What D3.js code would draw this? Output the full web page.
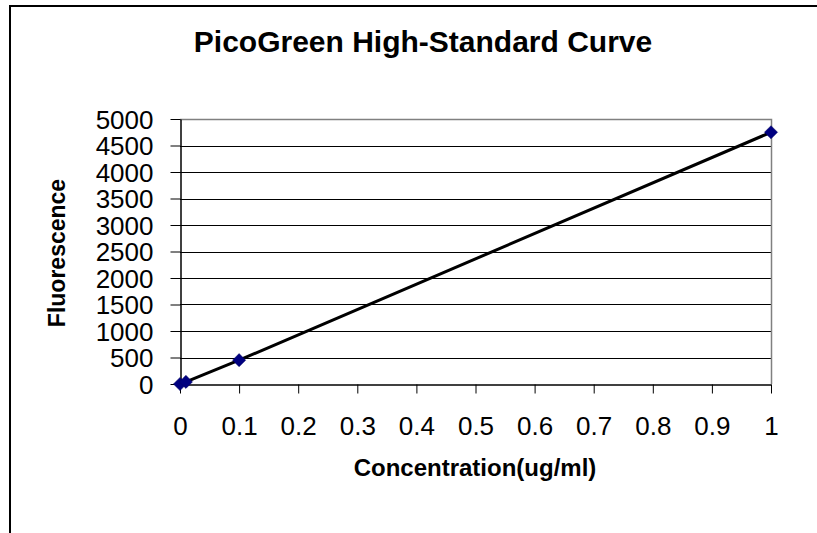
<!DOCTYPE html>
<html>
<head>
<meta charset="utf-8">
<script src="https://cdn.jsdelivr.net/npm/d3@7"></script>
<style>
  body { margin: 0; background: #fff; }
  text { font-family: "Liberation Sans", Arial, sans-serif; fill: #000; }
</style>
</head>
<body>
<script>
// PicoGreen standard: concentration (ug/ml) vs fluorescence
var concentration = [0, 0.01, 0.1, 1];
var fluorescence  = [0, 40, 450, 4750];
var xTicks = [0, 0.1, 0.2, 0.3, 0.4, 0.5, 0.6, 0.7, 0.8, 0.9, 1];
var yTicks = [0, 500, 1000, 1500, 2000, 2500, 3000, 3500, 4000, 4500, 5000];

var width  = 817,
    height = 533;

var plot = {left: 180, top: 119, right: 771, bottom: 384};

const svg = d3.select("body")
    .append("svg")
    .attr("width", width)
    .attr("height", height);

// outer chart border, runs off the right and bottom edge
svg.append("rect")
    .attr("x", 10).attr("y", 6)
    .attr("width", 1000).attr("height", 600)
    .attr("fill", "#fff")
    .attr("stroke", "#000")
    .attr("stroke-width", 2);

var x = d3.scaleLinear().domain([0, 1]).range([plot.left, plot.right]);
var y = d3.scaleLinear().domain([0, 5000]).range([plot.bottom, plot.top]);

// gridlines
svg.append("g")
    .selectAll("line")
    .data(yTicks.slice(1, -1))
    .join("line")
    .attr("x1", plot.left).attr("x2", plot.right)
    .attr("y1", d => Math.round(y(d)) + 0.5)
    .attr("y2", d => Math.round(y(d)) + 0.5)
    .style("stroke", "#000")
    .style("stroke-width", 1);

// gray frame on top and right
svg.append("path")
    .attr("d", `M${plot.left},${plot.top + 0.5}H${plot.right + 0.5}V${plot.bottom}`)
    .attr("fill", "none")
    .style("stroke", "#808080")
    .style("stroke-width", 1.5);

var xAxis = svg.append("g")
    .attr("transform", `translate(0,${plot.bottom + 0.5})`)
    .call(d3.axisBottom(x).tickValues(xTicks).tickSize(9).tickPadding(23)
        .tickFormat(d3.format("")).tickSizeOuter(0));

var yAxis = svg.append("g")
    .attr("transform", `translate(${plot.left + 0.5},0)`)
    .call(d3.axisLeft(y).tickValues(yTicks).tickSize(10).tickPadding(17)
        .tickFormat(d3.format("d")).tickSizeOuter(0));

[xAxis, yAxis].forEach(a => {
    a.select(".domain").style("stroke", "#000").style("stroke-width", 1.5);
    a.selectAll(".tick line").style("stroke", "#000");
    a.selectAll(".tick text")
        .style("font-family", "'Liberation Sans', Arial, sans-serif")
        .style("font-size", "26px")
        .style("fill", "#000");
});
yAxis.selectAll(".tick text").attr("dy", "0.36em");

// data line and markers
var pts = concentration.map((c, i) => ({x: c, y: fluorescence[i]}));

svg.append("path")
    .datum(pts)
    .attr("d", d3.line().x(d => x(d.x)).y(d => y(d.y)))
    .attr("fill", "none")
    .style("stroke", "#000")
    .style("stroke-width", 3);

svg.append("g")
    .selectAll("path")
    .data(pts)
    .join("path")
    .attr("d", d3.symbol(d3.symbolDiamond2, 110))
    .attr("transform", d => `translate(${x(d.x)},${y(d.y)})`)
    .attr("fill", "#000080")
    .style("stroke", "#000060")
    .style("stroke-width", 0.5);

// titles
svg.append("text")
    .attr("x", 423).attr("y", 52)
    .attr("text-anchor", "middle")
    .style("font-size", "30px")
    .style("font-weight", "bold")
    .text("PicoGreen High-Standard Curve");

svg.append("text")
    .attr("x", 475).attr("y", 476)
    .attr("text-anchor", "middle")
    .style("font-size", "24px")
    .style("font-weight", "bold")
    .text("Concentration(ug/ml)");

svg.append("text")
    .attr("transform", "translate(65,253) rotate(-90)")
    .attr("text-anchor", "middle")
    .style("font-size", "23px")
    .style("font-weight", "bold")
    .text("Fluorescence");
</script>
</body>
</html>
